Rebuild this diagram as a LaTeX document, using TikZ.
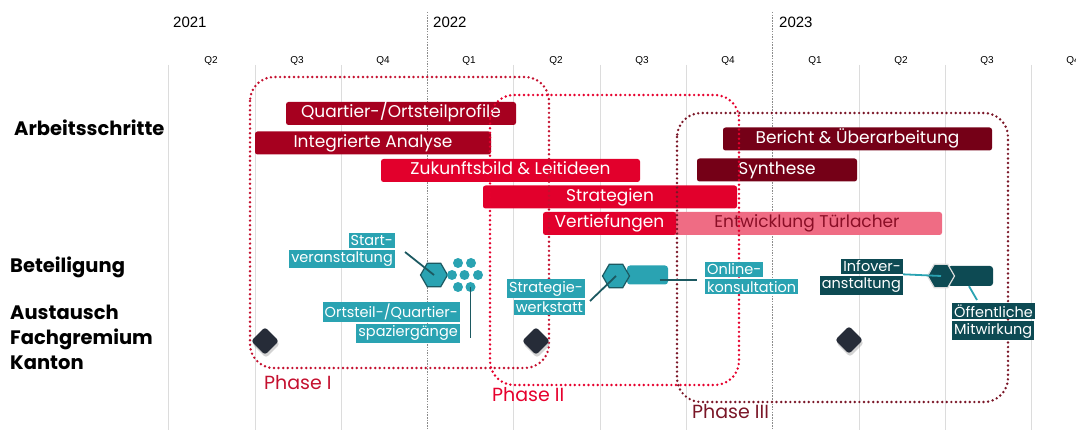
\documentclass[tikz,border=0pt]{standalone}
\usepackage{fontspec}
\setmainfont{Poppins}
\newfontfamily\axisfont{Liberation Sans}
\usetikzlibrary{shapes,positioning,shadows}
\definecolor{gridgrey}{HTML}{DCDCDC}
\definecolor{yeargrey}{HTML}{8C8C8C}
\definecolor{bardark}{HTML}{A6001F}
\definecolor{barred}{HTML}{E2002C}
\definecolor{barmaroon}{HTML}{750017}
\definecolor{barpink}{HTML}{EF6C84}
\definecolor{pinktext}{HTML}{8A0E26}
\definecolor{phaseone}{HTML}{C4102F}
\definecolor{phasetwo}{HTML}{E6002D}
\definecolor{phasethree}{HTML}{7A1627}
\definecolor{lightteal}{HTML}{2AA3B2}
\definecolor{darkteal}{HTML}{0D4A53}
\definecolor{pinteal}{HTML}{1C5961}
\definecolor{diamondgrey}{HTML}{262C38}

\begin{document}
\begin{tikzpicture}[x=1pt,y=-1pt]

    \tikzstyle{gridline}=[color=gridgrey, line width=0.9pt]
    \tikzstyle{yearline}=[color=yeargrey, line width=0.9pt, dash pattern=on 1.5pt off 1.2pt]
    \tikzstyle{year}=[anchor=west, inner sep=0pt, font=\axisfont\fontsize{15}{15}\selectfont]
    \tikzstyle{quarter}=[inner sep=0pt, font=\axisfont\fontsize{10}{10}\selectfont]
    \tikzstyle{rowlabel}=[anchor=west, inner sep=0pt, align=left, font=\bfseries\fontsize{19.5}{25}\selectfont]
    \tikzstyle{bar}=[rounded corners=2.5pt, inner sep=0pt, minimum height=23pt, text=white, text height=12pt, text depth=3.5pt, font=\fontsize{17}{17}\selectfont]
    \tikzstyle{phasebox}=[line width=2.7pt, line cap=round, dash pattern=on 0pt off 4.6pt, rounded corners=24pt]
    \tikzstyle{phase}=[anchor=west, inner sep=0pt, font=\fontsize{19}{19}\selectfont]
    \tikzstyle{tlabel}=[fill=lightteal, text=white, inner xsep=2pt, inner ysep=2pt, font=\fontsize{14.5}{14.5}\selectfont]
    \tikzstyle{tlabeldark}=[tlabel, fill=darkteal]
    \tikzstyle{hex}=[regular polygon, regular polygon sides=6, minimum size=27pt, inner sep=0pt, line width=1.2pt]
    \tikzstyle{event}=[rounded corners=3pt, inner sep=0pt, minimum height=19pt]
    \tikzstyle{dot}=[circle, fill=lightteal, minimum size=10pt, inner sep=0pt]
    \tikzstyle{pinline}=[color=pinteal, line width=1.8pt]
    \tikzstyle{meeting}=[diamond, fill=diamondgrey, minimum width=28pt, minimum height=28pt, inner sep=0pt, rounded corners=3pt, drop shadow={shadow xshift=1pt, shadow yshift=-3pt, opacity=0.35}]

    \useasboundingbox (0,0) rectangle (1076,430);

    % time axis
    \foreach \x in {168,255,341,513,600,686,859,945,1031}
      \draw[gridline] (\x,65) -- (\x,430);
    \draw[yearline] (427,12) -- (427,430);
    \draw[yearline] (772,12) -- (772,430);
    \node (y2021)[year] at (173,22) {2021};
    \node (y2022)[year] at (433,22) {2022};
    \node (y2023)[year] at (779,22) {2023};
    \foreach \q/\x in {Q2/211,Q3/297,Q4/383,Q1/469,Q2/556,Q3/642,Q4/728,Q1/815,Q2/901,Q3/987,Q4/1073}
      \node (q\x)[quarter] at (\x,61) {\q};

    % rows
    \node (arbeit)[rowlabel] at (14,128) {Arbeitsschritte};
    \node (beteil)[rowlabel] at (10,267) {Beteiligung};
    \node (kanton)[rowlabel] at (10,337) {Austausch\\Fachgremium\\Kanton};

    % work steps
    \node (profile)[bar, fill=bardark, minimum width=230pt] at (401,113.5) {Quartier-/Ortsteilprofile};
    \node (analyse)[bar, fill=bardark, minimum width=236pt] at (373,143) {Integrierte Analyse};
    \node (zukunft)[bar, fill=barred, minimum width=259pt] at (510.5,170.5) {Zukunftsbild \& Leitideen};
    \node (strat)[bar, fill=barred, minimum width=254pt] at (610,197) {Strategien};
    \node (tuerlacher)[bar, fill=barpink, text=pinktext, minimum width=270pt] at (807,223.5) {Entwicklung Türlacher};
    \node (vertief)[bar, fill=barred, minimum width=133pt] at (609.5,223.5) {Vertiefungen};
    \node (bericht)[bar, fill=barmaroon, minimum width=269pt] at (857.5,139) {Bericht \& Überarbeitung};
    \node (synthese)[bar, fill=barmaroon, minimum width=160pt] at (777,170) {Synthese};

    % phases
    \draw[phasebox, color=phaseone] (250,77) rectangle (549,368);
    \draw[phasebox, color=phasetwo] (490,95) rectangle (739,385);
    \draw[phasebox, color=phasethree] (677,113) rectangle (1008,402);
    \node (phaseI)[phase, text=phaseone] at (264,383) {Phase I};
    \node (phaseII)[phase, text=phasetwo] at (492,395) {Phase II};
    \node (phaseIII)[phase, text=phasethree] at (692,412) {Phase III};

    % participation
    \node (starthex)[hex, fill=lightteal, draw=pinteal] at (434,275) {};
    \foreach \dx/\dy [count=\i] in {458/263,471/263,452/275,464.5/275,478/275,458/287,470.5/287}
      \node (dot\i)[dot] at (\dx,\dy) {};
    \node (startA)[tlabel, anchor=east] at (395,240.5) {Start-};
    \node (startB)[tlabel, below=1.5pt of startA.south east, anchor=north east] {veranstaltung};
    \node (spazA)[tlabel, anchor=east] at (460,312) {Ortsteil-/Quartier-};
    \node (spazB)[tlabel, below=1.5pt of spazA.south east, anchor=north east] {spaziergänge};
    \coordinate (startpin) at (405,252);
    \coordinate (spazpin) at (470.5,338);
    \draw[pinline] (startpin) -- (starthex.center);
    \draw[pinline] (dot7.center) -- (spazpin);

    \node (stratbar)[event, fill=lightteal, minimum width=41pt] at (647.5,275) {};
    \node (strathex)[hex, fill=lightteal, draw=pinteal] at (616,276) {};
    \node (stratA)[tlabel, anchor=east] at (585,288.5) {Strategie-};
    \node (stratB)[tlabel, below=1.5pt of stratA.south east, anchor=north east] {werkstatt};
    \node (onlineA)[tlabel, anchor=west] at (705,269.5) {Online-};
    \node (onlineB)[tlabel, below=1.5pt of onlineA.south west, anchor=north west] {konsultation};
    \coordinate (stratpin) at (590,301);
    \coordinate (onlinepin) at (697,280);
    \draw[pinline] (stratpin) -- (strathex.center);
    \draw[pinline] ([xshift=12pt,yshift=-5pt]stratbar.center) -- (onlinepin);

    \node (infobar)[event, fill=darkteal, minimum width=45pt, minimum height=20pt] at (970.5,276) {};
    \node (infohex)[hex, fill=darkteal, draw=gridgrey] at (941,276) {};
    \node (infoA)[tlabeldark, anchor=east] at (903,266.5) {Infover-};
    \node (infoB)[tlabeldark, below=1.5pt of infoA.south east, anchor=north east] {anstaltung};
    \node (oeffA)[tlabeldark, anchor=west] at (952,311) {Öffentliche};
    \node (oeffB)[tlabeldark, below=1.5pt of oeffA.south west, anchor=north west] {Mitwirkung};
    \coordinate (oeffpin) at (977,300);
    \draw[pinline, color=lightteal] (infoA.south east) -- (infohex.center);
    \draw[pinline, color=lightteal] ([xshift=-1.5pt]infobar.south) -- (oeffpin);

    % canton meetings
    \node (meet1)[meeting] at (265,341) {};
    \node (meet2)[meeting] at (536,341) {};
    \node (meet3)[meeting] at (849,340) {};

\end{tikzpicture}
\end{document}
